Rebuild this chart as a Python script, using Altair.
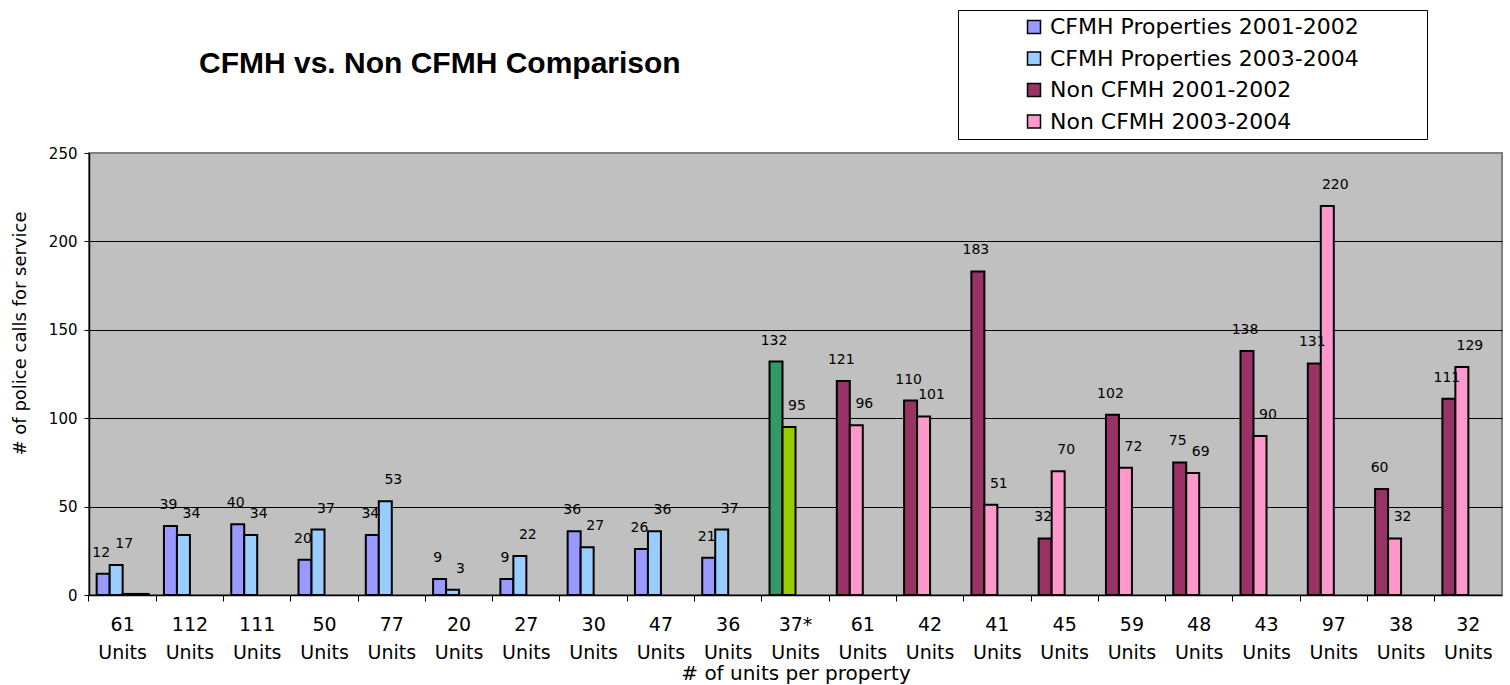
import json
import altair as alt
import pandas as pd

# ---- data ----
units = ["61", "112", "111", "50", "77", "20", "27", "30", "47", "36", "37*",
         "61", "42", "41", "45", "59", "48", "43", "97", "38", "32"]
calls_2001_2002 = [12, 39, 40, 20, 34, 9, 9, 36, 26, 21, 132,
                   121, 110, 183, 32, 102, 75, 138, 131, 60, 111]
calls_2003_2004 = [17, 34, 34, 37, 53, 3, 22, 27, 36, 37, 95,
                   96, 101, 51, 70, 72, 69, 90, 220, 32, 129]
groups = ["CFMH"] * 10 + ["37*"] + ["Non CFMH"] * 10
first_category_stub = [0.6, 0.6]   # near-zero Non CFMH bars drawn in the first category

series_names = {
    "CFMH": ("CFMH Properties 2001-2002", "CFMH Properties 2003-2004"),
    "37*": ("37* 2001-2002", "37* 2003-2004"),
    "Non CFMH": ("Non CFMH 2001-2002", "Non CFMH 2003-2004"),
}
legend_entries = ["CFMH Properties 2001-2002", "CFMH Properties 2003-2004",
                  "Non CFMH 2001-2002", "Non CFMH 2003-2004"]
color_domain = legend_entries + ["37* 2001-2002", "37* 2003-2004"]
color_range = ["#9999FF", "#99CCFF", "#993366", "#FF99CC", "#339966", "#99CC00"]

rows = []
for i, (g, a, b) in enumerate(zip(groups, calls_2001_2002, calls_2003_2004)):
    s1, s2 = series_names[g]
    rows.append({"idx": i, "slot": "a", "value": a, "series": s1, "label": str(a)})
    rows.append({"idx": i, "slot": "b", "value": b, "series": s2, "label": str(b)})
rows.append({"idx": 0, "slot": "c", "value": first_category_stub[0],
             "series": "Non CFMH 2001-2002", "label": ""})
rows.append({"idx": 0, "slot": "d", "value": first_category_stub[1],
             "series": "Non CFMH 2003-2004", "label": ""})
df = pd.DataFrame(rows)

W, H = 1413, 442
FONT = "DejaVu Sans"

label_expr = "[" + json.dumps(units) + "[datum.value], 'Units']"

x_enc = alt.X(
    "idx:O",
    scale=alt.Scale(paddingInner=0, paddingOuter=0),
    axis=alt.Axis(
        title="# of units per property",
        labelExpr=label_expr,
        labelAngle=0,
        labelFontSize=19,
        labelLineHeight=28,
        labelPadding=14,
        bandPosition=0,
        tickSize=6,
        tickColor="black",
        tickWidth=1,
        domainColor="black",
        domainWidth=1.5,
        titleFontSize=20,
        titleFontWeight="normal",
        titleY=78,
        titleBaseline="middle",
        grid=False,
    ),
)
xoff = alt.XOffset("slot:N", scale=alt.Scale(domain=["a", "b", "c", "d"],
                                              paddingInner=0, paddingOuter=0.59))
y_enc = alt.Y(
    "value:Q",
    scale=alt.Scale(domain=[0, 250], nice=False),
    axis=alt.Axis(
        title="# of police calls for service",
        values=[0, 50, 100, 150, 200, 250],
        labelFontSize=15,
        labelPadding=7,
        tickSize=5,
        tickColor="black",
        domainColor="black",
        domainWidth=1.5,
        grid=True,
        gridColor={"condition": {"test": "datum.value >= 250 || datum.value <= 0",
                                 "value": "transparent"}, "value": "black"},
        gridWidth=1,
        titleFontSize=18,
        titleFontWeight="normal",
        titleX=-69,
        titleY=180,
        titleBaseline="middle",
        titleAlign="center",
    ),
)
color_enc = alt.Color(
    "series:N",
    scale=alt.Scale(domain=color_domain, range=color_range),
    legend=alt.Legend(
        values=legend_entries,
        title=" ",
        titleOrient="right",
        titlePadding=62,
        orient="none",
        legendX=869,
        legendY=-143,
        fillColor="white",
        strokeColor="black",
        padding=6,
        rowPadding=9.5,
        symbolType="square",
        symbolSize=169,
        symbolStrokeColor="black",
        symbolStrokeWidth=1.5,
        symbolOffset=59,
        labelFontSize=22,
        labelFont=FONT,
        labelColor="black",
        labelOffset=5,
        labelLimit=500,
    ),
)

base = alt.Chart(df)
bars = base.mark_bar(stroke="black", strokeWidth=2).encode(
    x=x_enc, xOffset=xoff, y=y_enc, color=color_enc
)
text_a = base.transform_filter("datum.slot == 'a'").mark_text(
    font=FONT, fontSize=14, color="black", dx=-2, dy=-21, baseline="middle"
).encode(x=alt.X("idx:O"), xOffset="slot:N", y="value:Q", text="label:N")
text_b = base.transform_filter("datum.slot == 'b'").mark_text(
    font=FONT, fontSize=14, color="black", dx=8, dy=-21, baseline="middle"
).encode(x=alt.X("idx:O"), xOffset="slot:N", y="value:Q", text="label:N")

chart = (
    alt.layer(bars, text_a, text_b)
    .properties(
        width=W,
        height=H,
        autosize=alt.AutoSizeParams(type="none"),
        padding={"left": 89, "top": 153, "right": 8, "bottom": 90},
        title=alt.TitleParams(
            "CFMH vs. Non CFMH Comparison",
            font="Liberation Sans",
            fontSize=30,
            fontWeight="bold",
            color="black",
            anchor="start",
            frame="group",
            baseline="bottom",
            dx=110,
            dy=99,
            offset=0,
        ),
    )
    .configure(font=FONT, background="white")
    .configure_view(fill="#C0C0C0", stroke="#808080", strokeWidth=2)
    .configure_axis(labelFont=FONT, titleFont=FONT, labelColor="black", titleColor="black")
)

chart.save("out.html", embed_options={"renderer": "svg", "actions": False})
